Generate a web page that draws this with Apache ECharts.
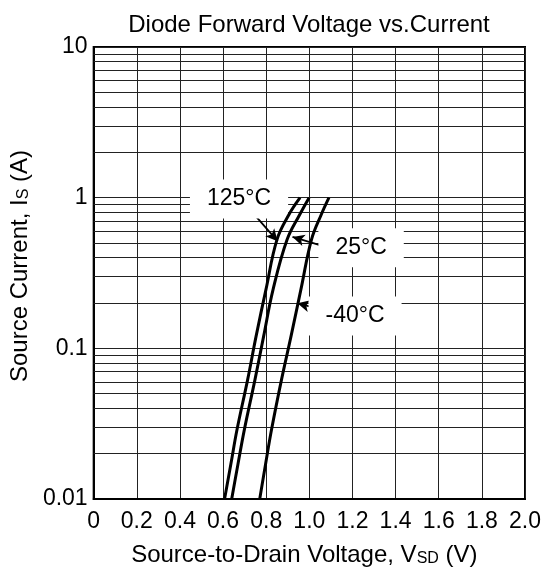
<!DOCTYPE html>
<html>
<head>
<meta charset="utf-8">
<script src="https://cdn.jsdelivr.net/npm/echarts@6/dist/echarts.min.js"></script>
<style>
html,body{margin:0;padding:0;background:#fff;}
#chart{width:547px;height:572px;}
</style>
</head>
<body>
<div id="chart"></div>
<script>
// Data: [VSD (V), IS (A)]
var curve125 = [[0.607,0.01],[0.636,0.017],[0.665,0.029],[0.714,0.062],[0.753,0.12],[0.799,0.246],[0.850,0.527],[0.905,0.77],[0.957,1]];
var curve25  = [[0.640,0.01],[0.669,0.017],[0.699,0.029],[0.748,0.062],[0.788,0.12],[0.832,0.246],[0.897,0.527],[0.955,0.77],[0.999,1]];
var curveM40 = [[0.770,0.01],[0.797,0.017],[0.825,0.029],[0.871,0.062],[0.915,0.12],[0.961,0.246],[1.010,0.527],[1.055,0.77],[1.091,1]];
var xTicks = ['0','0.2','0.4','0.6','0.8','1.0','1.2','1.4','1.6','1.8','2.0'];
var yTicks = ['0.01','0.1','1','10'];
var minorY = [0.02,0.03,0.04,0.05,0.06,0.07,0.08,0.09,0.2,0.3,0.4,0.5,0.6,0.7,0.8,0.9,2,3,4,5,6,7,8,9];
// annotation labels: [V, I, text]
var labels = [[0.674,0.98,'125°C'],[1.240,0.466,'25°C'],[1.212,0.164,'-40°C']];
// arrows: [[V0,I0],[V1,I1]]
var arrows = [[[0.742,0.78],[0.853,0.514]],[[1.091,0.464],[0.922,0.549]],[[1.061,0.181],[0.945,0.199]]];

var FONT = 'Liberation Sans, Arial, sans-serif';
var chart = echarts.init(document.getElementById('chart'));

function curveSeries(d){
  return {type:'line', data:d, smooth:0.4, symbol:'none', z:10,
    lineStyle:{color:'#000', width:3}};
}
var richName = {
  n:{fontFamily:FONT, fontSize:24, color:'#000', lineHeight:28, verticalAlign:'bottom'},
  s:{fontFamily:FONT, fontSize:16, color:'#000', lineHeight:24, verticalAlign:'bottom'}
};

var option = {
  animation:false,
  backgroundColor:'#fff',
  title:{text:'Diode Forward Voltage vs.Current', left:304, textAlign:'center', top:8,
    textStyle:{fontFamily:FONT, fontSize:24, fontWeight:'normal', color:'#000'}},
  grid:{left:92, right:22, top:47, bottom:73, show:true, borderColor:'#000', borderWidth:2, backgroundColor:'transparent'},
  xAxis:{type:'value', min:0, max:2, interval:0.2,
    name:'{n|Source-to-Drain Voltage, V}{s|SD}{n| (V)}', nameLocation:'middle', nameGap:40,
    nameTextStyle:{rich:richName, padding:[0,10,0,0]},
    axisLine:{show:true, lineStyle:{color:'#000', width:2}},
    axisTick:{show:false},
    axisLabel:{margin:11, fontFamily:FONT, fontSize:23, color:'#000',
      formatter:function(v){ return xTicks[Math.round(v/0.2)]; }},
    splitLine:{show:true, lineStyle:{color:'#222', width:1}}
  },
  yAxis:{type:'log', logBase:10, min:0.01, max:10,
    name:'{n|Source Current, I}{s|S}{n| (A)}', nameLocation:'middle', nameGap:57,
    nameTextStyle:{rich:richName, padding:[0,0,0,14]},
    axisLine:{show:true, lineStyle:{color:'#000', width:2}},
    axisTick:{show:false},
    axisLabel:{margin:6, fontFamily:FONT, fontSize:23, color:'#000',
      formatter:function(v){ var k=Math.round(Math.log10(v))+2; return yTicks[k]; }},
    splitLine:{show:true, lineStyle:{color:'#222', width:1}}
  },
  series:[
    {type:'line', data:[], z:1, silent:true,
      markLine:{silent:true, symbol:['none','none'], label:{show:false},
        lineStyle:{color:'#222', width:1, type:'solid'},
        data:minorY.map(function(v){return {yAxis:v};})}},
    {type:'custom', z:5, silent:true,
      data:labels.map(function(l){return [l[0],l[1],l[2]];}),
      renderItem:function(params, api){
        var p = api.coord([api.value(0), api.value(1)]);
        return {type:'text', x:p[0], y:p[1],
          style:{text:labels[params.dataIndex][2], fill:'#000', font:'23px ' + FONT,
            align:'center', verticalAlign:'middle', backgroundColor:'#fff', padding:[8,17,8,17]}};
      }},
    curveSeries(curve125),
    curveSeries(curve25),
    curveSeries(curveM40),
    {type:'line', data:[], z:12, silent:true,
      markLine:{silent:true, symbol:['none','arrow'], symbolSize:[9,12], label:{show:false},
        lineStyle:{color:'#000', width:1.8, type:'solid'},
        data:arrows.map(function(a){return [{coord:a[0]},{coord:a[1]}];})}}
  ]
};
chart.setOption(option);
</script>
</body>
</html>
